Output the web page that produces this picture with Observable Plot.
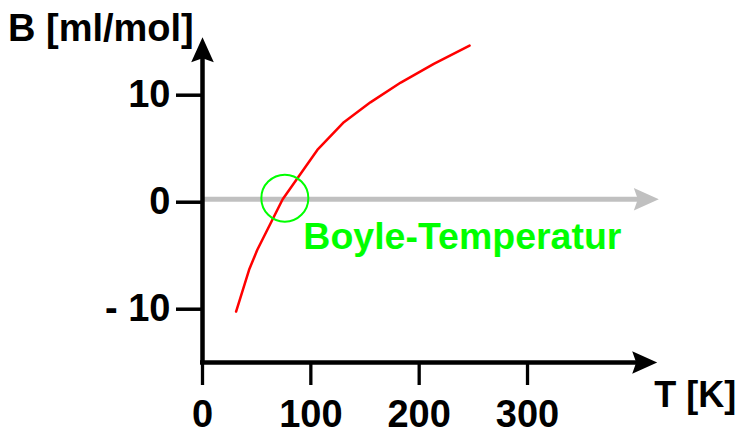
<!DOCTYPE html>
<html><head><meta charset="utf-8">
<script src="https://cdn.jsdelivr.net/npm/d3@7"></script>
<script src="https://cdn.jsdelivr.net/npm/@observablehq/plot@0.6"></script>
<style>body{margin:0;background:#fff}</style>
</head><body><div id="chart"></div>
<script>
// Data
const temperatures = [31, 43, 50.5, 74, 106, 130.5, 155, 183, 213.5, 246.5];
const bValues = [-10.5, -6.6, -4.75, 0, 4.6, 7.2, 9.05, 10.9, 12.65, 14.35];
const xTicks = [0, 100, 200, 300];
const yTicks = [-10, 0, 10];
const yTickLabels = ["- 10", "0", "10"];
const boyleT = [76];
const boyleB = [0.1];
const xLabel = "T [K]";
const yLabel = "B [ml/mol]";
const boyleLabel = "Boyle-Temperatur";
const xDomain = [0, 419.7];
const yDomain = [-15.26, 15.14];
const grayArrowEnd = 421.2;

const curve = temperatures.map((T, i) => ({T, B: bValues[i]}));
const boylePoint = boyleT.map((T, i) => ({T, B: boyleB[i]}));
const arrowHead = {draw(ctx) { ctx.moveTo(0, 0); ctx.lineTo(11.3, 25); ctx.lineTo(0, 21); ctx.lineTo(-11.3, 25); ctx.closePath(); }};
const font = "'Liberation Sans', Arial, Helvetica, sans-serif";

const plot = Plot.plot({
  width: 740, height: 435,
  marginLeft: 202, marginRight: 83.3, marginTop: 36.7, marginBottom: 73,
  x: {domain: xDomain},
  y: {domain: yDomain},
  style: {fontFamily: font, fontWeight: "bold", background: "white", color: "black"},
  marks: [
    Plot.ruleY([0], {x1: xDomain[0], x2: grayArrowEnd, stroke: "#c0c0c0", strokeWidth: 5, insetLeft: 2, insetRight: 16}),
    Plot.dot([{x: grayArrowEnd, y: 0}], {x: "x", y: "y", symbol: arrowHead, rotate: 90, fill: "#c0c0c0", stroke: "none"}),
    Plot.line(curve, {x: "T", y: "B", stroke: "#ff0000", strokeWidth: 2.5}),
    Plot.dot(boylePoint, {x: "T", y: "B", r: 23.5, stroke: "#00ff00", strokeWidth: 2, fill: "none"}),
    Plot.text(boylePoint, {x: "T", y: "B", text: () => boyleLabel, textAnchor: "start", lineAnchor: "bottom", dx: 18.5, dy: 50.8, fill: "#00ff00", fontSize: 37.5, fontWeight: "bold", fontFamily: font}),
    Plot.ruleX([xDomain[0]], {stroke: "black", strokeWidth: 4.5, insetTop: 16, insetBottom: -2}),
    Plot.ruleY([yDomain[0]], {stroke: "black", strokeWidth: 4.3, insetRight: 16, insetLeft: -2}),
    Plot.dot([{x: xDomain[0], y: yDomain[1]}], {x: "x", y: "y", symbol: arrowHead, fill: "black", stroke: "none"}),
    Plot.dot([{x: xDomain[1], y: yDomain[0]}], {x: "x", y: "y", symbol: arrowHead, rotate: 90, fill: "black", stroke: "none"}),
    Plot.axisY({ticks: yTicks, tickFormat: d => yTickLabels[yTicks.indexOf(d)], tickSize: 26, tickPadding: 6, fontSize: 38, fontWeight: "bold", fontFamily: font, strokeWidth: 3.5, dy: 3, label: null}),
    Plot.axisX({ticks: xTicks, tickSize: 23, tickPadding: 15, fontSize: 38, fontWeight: "bold", fontFamily: font, strokeWidth: 3.3, label: null}),
    Plot.text([yLabel], {frameAnchor: "top-left", text: d => d, dx: -194.5, dy: 4, textAnchor: "start", lineAnchor: "bottom", fontSize: 38, fontWeight: "bold", fontFamily: font}),
    Plot.text([xLabel], {frameAnchor: "bottom-right", text: d => d, dx: -3, dy: 44, textAnchor: "start", lineAnchor: "bottom", fontSize: 36, fontWeight: "bold", fontFamily: font})
  ]
});
document.getElementById("chart").appendChild(plot);
</script>
</body></html>
